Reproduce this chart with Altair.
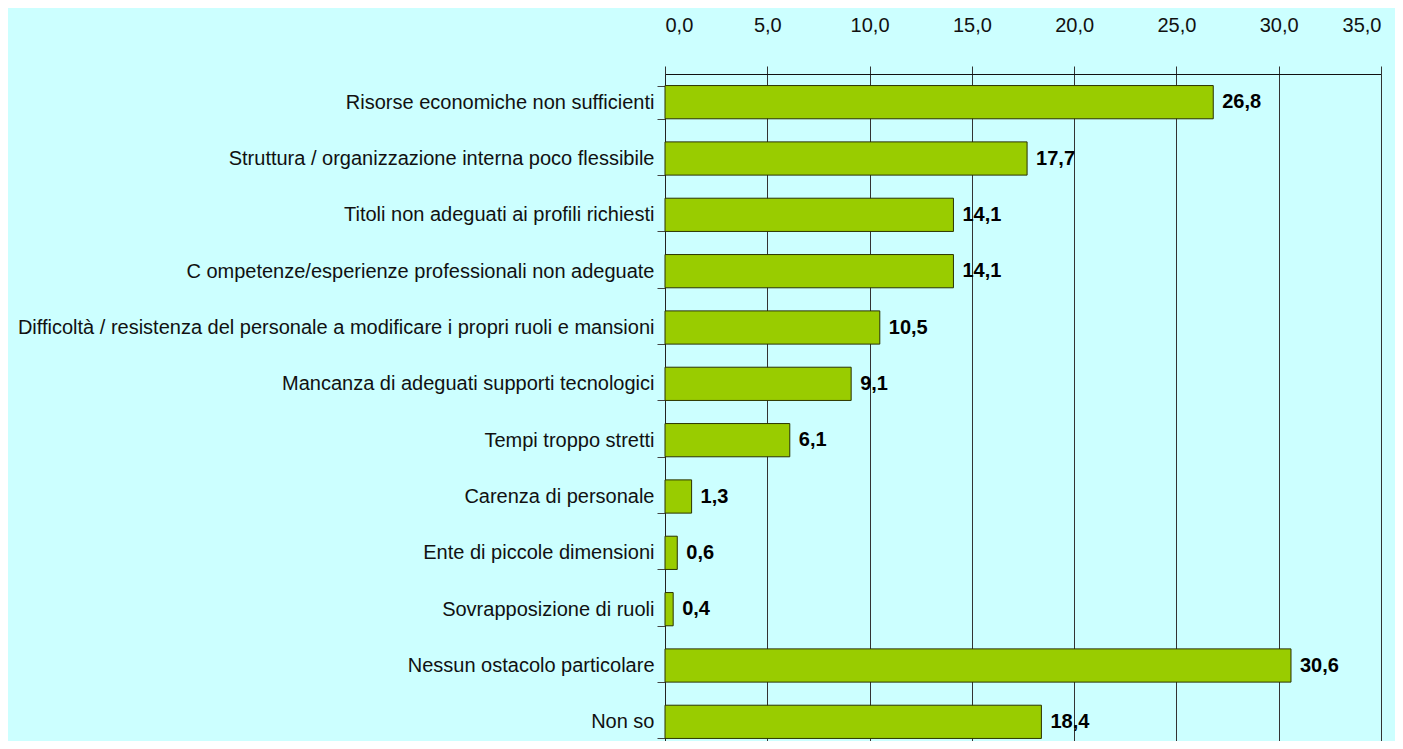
import altair as alt
import pandas as pd

categories = [
    "Risorse economiche non sufficienti",
    "Struttura / organizzazione interna poco flessibile",
    "Titoli non adeguati ai profili richiesti",
    "C ompetenze/esperienze professionali non adeguate",
    "Difficoltà / resistenza del personale a modificare i propri ruoli e mansioni",
    "Mancanza di adeguati supporti tecnologici",
    "Tempi troppo stretti",
    "Carenza di personale",
    "Ente di piccole dimensioni",
    "Sovrapposizione di ruoli",
    "Nessun ostacolo particolare",
    "Non so",
]
values = [26.8, 17.7, 14.1, 14.1, 10.5, 9.1, 6.1, 1.3, 0.6, 0.4, 30.6, 18.4]
x_ticks = [0, 5, 10, 15, 20, 25, 30, 35]

df = pd.DataFrame({"cat": categories, "v": values})

FONT = "Liberation Sans, Arial, sans-serif"

y_enc = alt.Y(
    "cat:N",
    sort=categories,
    title=None,
    scale=alt.Scale(paddingInner=0.41, paddingOuter=0.205, range=[0, 676]),
    axis=alt.Axis(
        tickBand="extent",
        tickSize=8,
        tickColor="#444444",
        domainColor="#222222",
        labelFont=FONT,
        labelFontSize=20,
        labelColor="#111111",
        labelPadding=3,
        labelLimit=700,
    ),
)

x_enc = alt.X(
    "v:Q",
    title=None,
    scale=alt.Scale(domain=[0, 35], nice=False),
    axis=alt.Axis(
        orient="top",
        values=x_ticks,
        labelExpr="replace(format(datum.value, '.1f'), '.', ',')",
        tickSize=8,
        tickColor="#333333",
        domainColor="#111111",
        grid=True,
        gridColor="#333333",
        gridOpacity=1,
        labelFont=FONT,
        labelFontSize=20,
        labelColor="#111111",
        labelPadding=31,
    ),
)

bars = alt.Chart(df).mark_bar(
    color="#99CC00", stroke="#2a3300", strokeWidth=1
).encode(y=y_enc, x=x_enc)

labels = alt.Chart(df).transform_calculate(
    lab="replace(format(datum.v, '.1f'), '.', ',')"
).mark_text(
    align="left", baseline="middle", dx=9, font=FONT, fontSize=20,
    fontWeight="bold", color="#000000"
).encode(y=alt.Y("cat:N", sort=categories), x="v:Q", text="lab:N")

chart = (bars + labels).properties(
    width=716,
    height=667,
    background="#CCFFFF",
    padding={"left": 657, "top": 66, "right": 14, "bottom": 0},
    autosize=alt.AutoSizeParams(type="none"),
).configure_view(stroke=None)

chart.save("out.html", embed_options={"renderer": "svg", "actions": False})
